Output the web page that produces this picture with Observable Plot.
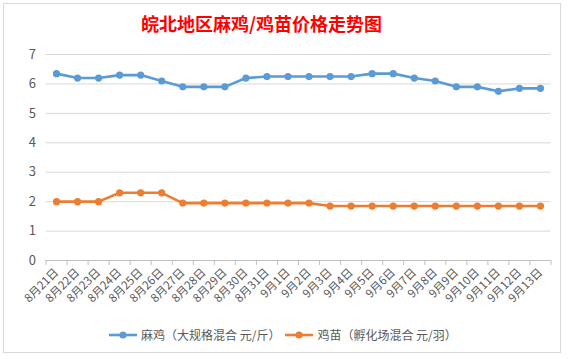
<!DOCTYPE html>
<html>
<head>
<meta charset="utf-8">
<script src="https://cdn.jsdelivr.net/npm/d3@7"></script>
<script src="https://cdn.jsdelivr.net/npm/@observablehq/plot@0.6"></script>
<style>
  html, body { margin: 0; padding: 0; background: #fff; }
  #wrap { position: relative; width: 569px; height: 359px; overflow: hidden; font-family: "Noto Sans CJK SC", "Noto Sans", sans-serif; }
  #frame { position: absolute; left: 3px; top: 3px; width: 558px; height: 350px; border: 1px solid #d9d9d9; box-sizing: border-box; }
  #title { position: absolute; left: 0; width: 523px; top: 11px; text-align: center; color: #ff0000; font-size: 18px; font-weight: bold; line-height: 24px; }
  #chart { position: absolute; left: 0; top: 0; }
  #legend { position: absolute; left: 108px; top: 327px; display: flex; align-items: center; font-size: 12px; color: #595959; line-height: 16px; }
  #legend .item { display: flex; align-items: center; margin-right: 4px; }
  #legend svg { margin-right: 3px; }
</style>
</head>
<body>
<div id="wrap">
  <div id="frame"></div>
  <div id="chart"></div>
  <div id="title">皖北地区麻鸡/鸡苗价格走势图</div>
  <div id="legend"></div>
</div>
<script>
const dates = ["8月21日","8月22日","8月23日","8月24日","8月25日","8月26日","8月27日","8月28日","8月29日","8月30日","8月31日","9月1日","9月2日","9月3日","9月4日","9月5日","9月6日","9月7日","9月8日","9月9日","9月10日","9月11日","9月12日","9月13日"];
const maji = [6.35,6.2,6.2,6.3,6.3,6.1,5.9,5.9,5.9,6.2,6.25,6.25,6.25,6.25,6.25,6.35,6.35,6.2,6.1,5.9,5.9,5.75,5.85,5.85];
const jimiao = [2.0,2.0,2.0,2.3,2.3,2.3,1.95,1.95,1.95,1.95,1.95,1.95,1.95,1.85,1.85,1.85,1.85,1.85,1.85,1.85,1.85,1.85,1.85,1.85];
const seriesNames = ["麻鸡（大规格混合 元/斤）", "鸡苗（孵化场混合 元/羽）"];
const colors = ["#5B9BD5", "#ED7D31"];
const yTicks = [0,1,2,3,4,5,6,7];

const idx = d3.range(dates.length);
const bounds = d3.range(dates.length + 1).map(i => i - 0.5);

const chart = Plot.plot({
  width: 569,
  height: 320,
  marginLeft: 45.5,
  marginRight: 18.5,
  marginTop: 54,
  marginBottom: 60,
  style: { fontFamily: '"Noto Sans CJK SC", "Noto Sans", sans-serif', background: "transparent", color: "#595959" },
  x: { type: "linear", domain: [-0.5, dates.length - 0.5] },
  y: { domain: [0, 7] },
  marks: [
    Plot.gridY(yTicks, { stroke: "#d9d9d9", strokeOpacity: 1 }),
    Plot.axisY(yTicks, { tickSize: 0, tickPadding: 10, fontSize: 13, label: null, tickFormat: d => String(d) }),
    Plot.ruleY([0], { stroke: "#bfbfbf" }),
    Plot.axisX(bounds, { tickSize: 5, stroke: "#bfbfbf", tickFormat: () => "", label: null }),
    Plot.axisX(idx, { tickSize: 0, tickPadding: 10, tickRotate: -45, fontSize: 11.5, tickFormat: i => dates[i], label: null }),
    Plot.line(idx, { x: i => i, y: i => maji[i], stroke: colors[0], strokeWidth: 2.6, strokeLinejoin: "round" }),
    Plot.dot(idx, { x: i => i, y: i => maji[i], fill: colors[0], r: 3.6 }),
    Plot.line(idx, { x: i => i, y: i => jimiao[i], stroke: colors[1], strokeWidth: 2.6, strokeLinejoin: "round" }),
    Plot.dot(idx, { x: i => i, y: i => jimiao[i], fill: colors[1], r: 3.6 })
  ]
});
document.getElementById("chart").appendChild(chart);

const legend = document.getElementById("legend");
seriesNames.forEach((name, k) => {
  const item = document.createElement("div");
  item.className = "item";
  item.innerHTML = `<svg width="30" height="10"><line x1="1" y1="5" x2="29" y2="5" stroke="${colors[k]}" stroke-width="2.6"/><circle cx="15" cy="5" r="3.6" fill="${colors[k]}"/></svg><span>${name}</span>`;
  legend.appendChild(item);
});
</script>
</body>
</html>
